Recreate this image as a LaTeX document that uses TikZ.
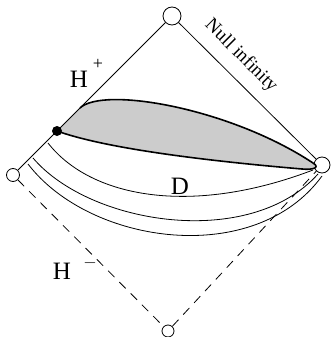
\documentclass[tikz,border=0pt]{standalone}
\usepackage{fontspec}
\setmainfont{Liberation Serif}
\usetikzlibrary{positioning}

\begin{document}
\begin{tikzpicture}[x=1pt,y=-1pt,
	infini/.style={circle, draw, fill=white, line width=0.8pt, inner sep=0pt},
	bord/.style={line width=0.8pt},
	bordpasse/.style={line width=0.8pt, dash pattern=on 9pt off 7pt},
	tranche/.style={line width=0.8pt},
	lbl/.style={font=\fontsize{25}{27}\selectfont, inner sep=0pt},
	expo/.style={font=\fontsize{18}{20}\selectfont, inner sep=0pt}]
		\useasboundingbox (0,0) rectangle (330,337);
		
		% Points a l'infini
		\node[infini, minimum size=18pt] (ip) at (172,16) {};
		\node[infini, minimum size=13pt] (il) at (13,175) {};
		\node[infini, minimum size=16pt] (ir) at (322,165) {};
		\node[infini, minimum size=12pt] (im) at (168,331) {};
		
		% Region grise
		\coordinate (pd) at (57,131);
		\coordinate (pa) at (80,108);
		\coordinate (pt) at (313,163);
		\fill[gray!40] (pd) -- (pa) .. controls (103,86) and (230,108) .. (pt)
		.. controls (321,168) and (312,170) .. (302,169)
		.. controls (220,162) and (110,150) .. (pd);
		
		% Horizons et infini nul
		\draw[bord] (il) -- (ip) -- (ir);
		\draw[bordpasse] (il) -- (im) -- (ir);
		
		% Bord de la region
		\draw[line width=1.6pt] (pa) .. controls (103,86) and (230,108) .. (pt)
		.. controls (321,168) and (312,170) .. (302,169)
		.. controls (220,162) and (110,150) .. (pd);
		\node[circle, fill=black, minimum size=10pt, inner sep=0pt] (pn) at (pd) {};
		
		% Tranches
		\draw[tranche] (48,143) .. controls (90,197) and (190,217) .. (313,170);
		\draw[tranche] (33,158) .. controls (90,225) and (250,250) .. (318,174);
		\draw[tranche] (28,164) .. controls (90,245) and (255,268) .. (322,176);
		
		% Etiquettes
		\node[lbl] (hp) at (79,79) {H};
		\node[expo] (hpe) at (98,64) {+};
		\node[lbl] (hm) at (62,271) {H};
		\node[expo] (hme) at (90,263) {$-$};
		\node[lbl] (dd) at (180,186) {D};
		\node[font=\fontsize{19}{21}\selectfont, rotate=-45] (ni) at (241,56) {Null infinity};
	\end{tikzpicture}
\end{document}
